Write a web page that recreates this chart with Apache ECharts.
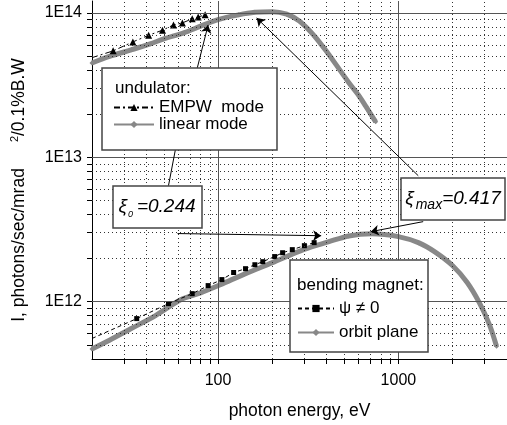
<!DOCTYPE html>
<html>
<head>
<meta charset="utf-8">
<script src="https://cdn.jsdelivr.net/npm/echarts@6/dist/echarts.min.js"></script>
<style>
  html, body { margin: 0; padding: 0; background: #fff; }
  #chart { width: 507px; height: 425px; }
</style>
</head>
<body>
<div id="chart"></div>
<script>
// undulator, linear mode
const energyLinear = [20, 25, 33, 42, 50, 65, 80, 100, 130, 160, 200, 240, 282, 320, 350, 400, 450, 530, 600, 660, 748]
const fluxLinear = [4.5e13, 5.0e13, 5.55e13, 6.1e13, 6.6e13, 7.3e13, 8.1e13, 9.0e13, 9.7e13, 1.01e14, 1.02e14, 9.8e13, 8.8e13, 7.6e13, 6.7e13, 5.4e13, 4.4e13, 3.3e13, 2.7e13, 2.25e13, 1.76e13]
// undulator, EMPW mode (first point has no marker)
const energyEmpw = [20, 26.2, 33.7, 41.2, 49.2, 56.6, 63.4, 71.9, 77.6, 84.8]
const fluxEmpw = [4.9e13, 5.46e13, 6.3e13, 7.0e13, 7.6e13, 8.26e13, 8.53e13, 9.1e13, 9.38e13, 9.7e13]
// bending magnet, orbit plane
const energyOrbit = [20, 25, 33, 45, 62, 80, 103, 140, 200, 300, 412, 530, 710, 1000, 1300, 1600, 2000, 2400, 2800, 3200, 3500]
const fluxOrbit = [4.7e11, 5.4e11, 6.5e11, 8.0e11, 1.03e12, 1.15e12, 1.31e12, 1.55e12, 1.86e12, 2.3e12, 2.6e12, 2.85e12, 2.95e12, 2.82e12, 2.55e12, 2.2e12, 1.77e12, 1.36e12, 9.9e11, 6.9e11, 4.9e11]
// bending magnet, psi != 0 (first point has no marker)
const energyPsi = [20, 35.4, 53.1, 71.9, 88.1, 105, 122, 142, 160, 177, 206, 228, 258, 301, 341]
const fluxPsi = [5.55e11, 7.62e11, 9.68e11, 1.135e12, 1.29e12, 1.42e12, 1.59e12, 1.69e12, 1.8e12, 1.89e12, 2.05e12, 2.18e12, 2.29e12, 2.44e12, 2.56e12]

// ticks and grid lines
const xMajor = [100, 1000]
const xMinor = [30, 40, 50, 60, 70, 80, 90, 200, 300, 400, 500, 600, 700, 800, 900, 2000, 3000]
const yMajor = [1e12, 1e13, 1e14]
const yMinor = [5e11, 6e11, 7e11, 8e11, 9e11, 2e12, 3e12, 4e12, 5e12, 6e12, 7e12, 8e12, 9e12,
  2e13, 3e13, 4e13, 5e13, 6e13, 7e13, 8e13, 9e13]
const xTickLabels = ['100', '1000']
const yTickLabels = ['1E12', '1E13', '1E14']

// annotation lines [from, to, arrowhead]
const arrows = [
  [[76.7, 4.16e13], [88.1, 8.26e13], true],
  [[53.1, 6.35e12], [58.0, 1.13e13], false],
  [[1288, 7.45e12], [163.7, 9.23e13], true],
  [[1372, 3.58e12], [702, 3.05e12], true],
  [[59.6, 2.96e12], [373, 2.86e12], true]
]

const FONT = 'Liberation Sans'

function pairs (xs, ys, noMarkFirst) {
  return xs.map((x, i) => {
    if (noMarkFirst && i === 0) return { value: [x, ys[i]], symbol: 'none' }
    return [x, ys[i]]
  })
}

const byValue = (a, b) => a - b

const chart = echarts.init(document.getElementById('chart'))

const gridLines = []
  .concat(xMinor.map(v => ({ xAxis: v, lineStyle: { color: '#333', width: 1, type: [1, 3] } })))
  .concat(yMinor.map(v => ({ yAxis: v, lineStyle: { color: '#333', width: 1, type: [1, 3] } })))
  .concat(xMajor.map(v => ({ xAxis: v, lineStyle: { color: '#555', width: 1, type: 'solid' } })))
  .concat(yMajor.map(v => ({ yAxis: v, lineStyle: { color: '#555', width: 1, type: 'solid' } })))

const option = {
  animation: false,
  grid: { left: 92, right: -3, top: 1, bottom: 66 },
  xAxis: {
    type: 'log',
    min: 20,
    max: 4000,
    name: 'photon energy, eV',
    nameLocation: 'middle',
    nameGap: 43,
    nameTextStyle: { fontFamily: FONT, fontSize: 17.5, color: '#000' },
    axisLine: { lineStyle: { color: '#000', width: 1 } },
    axisTick: { show: true, length: 5, lineStyle: { color: '#000' }, customValues: xMajor.concat(xMinor).sort(byValue) },
    splitLine: { show: false },
    axisLabel: {
      fontFamily: FONT, fontSize: 16, color: '#000', margin: 14,
      customValues: xMajor,
      formatter: v => {
        const s = String(Math.round(v))
        return xTickLabels.includes(s) ? s : ''
      }
    }
  },
  yAxis: {
    type: 'log',
    min: 4e11,
    max: 1.21e14,
    name: '{a|I, photons/sec/mrad}{b|2}{a|/0.1%B.W}',
    nameLocation: 'middle',
    nameGap: 63,
    nameTextStyle: {
      padding: [0, 20, 0, 0],
      rich: {
        a: { fontFamily: FONT, fontSize: 17.5, color: '#000', lineHeight: 20 },
        b: { fontFamily: FONT, fontSize: 11, color: '#000', lineHeight: 20, verticalAlign: 'top', padding: [0, 0, 0, 26] }
      }
    },
    axisLine: { show: true, lineStyle: { color: '#000', width: 1 } },
    axisTick: { show: true, length: 5, lineStyle: { color: '#000' }, customValues: yMajor.concat(yMinor).sort(byValue) },
    splitLine: { show: false },
    axisLabel: {
      fontFamily: FONT, fontSize: 16, color: '#000', margin: 10,
      customValues: yMajor,
      formatter: v => {
        const s = '1E' + Math.round(Math.log10(v))
        return yTickLabels.includes(s) ? s : ''
      }
    }
  },
  legend: [
    {
      orient: 'vertical', left: 113, top: 99, padding: 0,
      itemWidth: 40, itemHeight: 9, itemGap: 0, z: 12,
      selectedMode: false,
      textStyle: { fontFamily: FONT, fontSize: 17, color: '#000', lineHeight: 16 },
      data: [
        { name: 'EMPW  mode' },
        { name: 'linear mode', lineStyle: { width: 2 } }
      ]
    },
    {
      orient: 'vertical', left: 297, top: 300, padding: 0,
      itemWidth: 36, itemHeight: 9, itemGap: 7, z: 12,
      selectedMode: false,
      textStyle: { fontFamily: FONT, fontSize: 17, color: '#000', lineHeight: 16 },
      data: [
        { name: 'ψ ≠ 0' },
        { name: 'orbit plane', lineStyle: { width: 2 } }
      ]
    }
  ],
  graphic: [
    { type: 'rect', z: 10, shape: { x: 102, y: 68, width: 175, height: 82 }, style: { fill: '#fff', stroke: '#444', lineWidth: 1.5 } },
    { type: 'text', z: 11, style: { x: 115, y: 88, text: 'undulator:', fontFamily: FONT, fontSize: 17, fill: '#000', verticalAlign: 'middle' } },
    { type: 'rect', z: 10, shape: { x: 290, y: 260, width: 138, height: 92 }, style: { fill: '#fff', stroke: '#444', lineWidth: 1.5 } },
    { type: 'text', z: 11, style: { x: 297, y: 285, text: 'bending magnet:', fontFamily: FONT, fontSize: 17, fill: '#000', verticalAlign: 'middle' } },
    { type: 'rect', z: 10, shape: { x: 113, y: 186, width: 89, height: 42 }, style: { fill: '#fff', stroke: '#444', lineWidth: 1.5 } },
    {
      type: 'text', z: 11,
      style: {
        x: 157, y: 207, align: 'center', verticalAlign: 'middle',
        text: '{g|ξ}{s|0}{v|=0.244}',
        rich: {
          g: { fontFamily: FONT, fontSize: 19, fontStyle: 'italic', fill: '#000', lineHeight: 24 },
          s: { fontFamily: FONT, fontSize: 9, fontStyle: 'italic', fill: '#000', lineHeight: 24, verticalAlign: 'bottom', padding: [0, 4, 0, 1] },
          v: { fontFamily: FONT, fontSize: 19, fontStyle: 'italic', fill: '#000', lineHeight: 24 }
        }
      }
    },
    { type: 'rect', z: 10, shape: { x: 401, y: 178, width: 104, height: 42 }, style: { fill: '#fff', stroke: '#444', lineWidth: 1.5 } },
    {
      type: 'text', z: 11,
      style: {
        x: 453, y: 199, align: 'center', verticalAlign: 'middle',
        text: '{g|ξ}{s|max}{v|=0.417}',
        rich: {
          g: { fontFamily: FONT, fontSize: 19, fontStyle: 'italic', fill: '#000', lineHeight: 26 },
          s: { fontFamily: FONT, fontSize: 14, fontStyle: 'italic', fill: '#000', lineHeight: 26, verticalAlign: 'bottom', padding: [0, 0, 0, 2] },
          v: { fontFamily: FONT, fontSize: 19, fontStyle: 'italic', fill: '#000', lineHeight: 26 }
        }
      }
    }
  ],
  series: [
    {
      type: 'line', data: [], silent: true, z: 1,
      markLine: {
        silent: true,
        animation: false,
        symbol: ['none', 'none'],
        label: { show: false },
        emphasis: { disabled: true },
        data: gridLines
      }
    },
    {
      name: 'linear mode', type: 'line', smooth: 0.3, z: 2,
      data: pairs(energyLinear, fluxLinear),
      symbol: 'diamond', symbolSize: 5,
      lineStyle: { color: '#888', width: 5 },
      itemStyle: { color: '#888' }
    },
    {
      name: 'orbit plane', type: 'line', smooth: 0.3, z: 2,
      data: pairs(energyOrbit, fluxOrbit),
      symbol: 'diamond', symbolSize: 5,
      lineStyle: { color: '#888', width: 5 },
      itemStyle: { color: '#888' }
    },
    {
      name: 'EMPW  mode', type: 'line', z: 3,
      data: pairs(energyEmpw, fluxEmpw, true),
      symbol: 'triangle', symbolSize: 7,
      lineStyle: { color: '#000', width: 1, type: [6, 3, 2, 3] },
      itemStyle: { color: '#000' }
    },
    {
      name: 'ψ ≠ 0', type: 'line', z: 3,
      data: pairs(energyPsi, fluxPsi, true),
      symbol: 'rect', symbolSize: 5,
      lineStyle: { color: '#000', width: 1, type: [4, 3] },
      itemStyle: { color: '#000' }
    },
    {
      type: 'line', data: [], silent: true, z: 5,
      markLine: {
        silent: true,
        animation: false,
        label: { show: false },
        emphasis: { disabled: true },
        lineStyle: { color: '#000', width: 1, type: 'solid' },
        data: arrows.map(a => [
          { coord: a[0], symbol: 'none' },
          { coord: a[1], symbol: a[2] ? 'arrow' : 'none', symbolSize: 8 }
        ])
      }
    }
  ]
}

chart.setOption(option)
</script>
</body>
</html>
